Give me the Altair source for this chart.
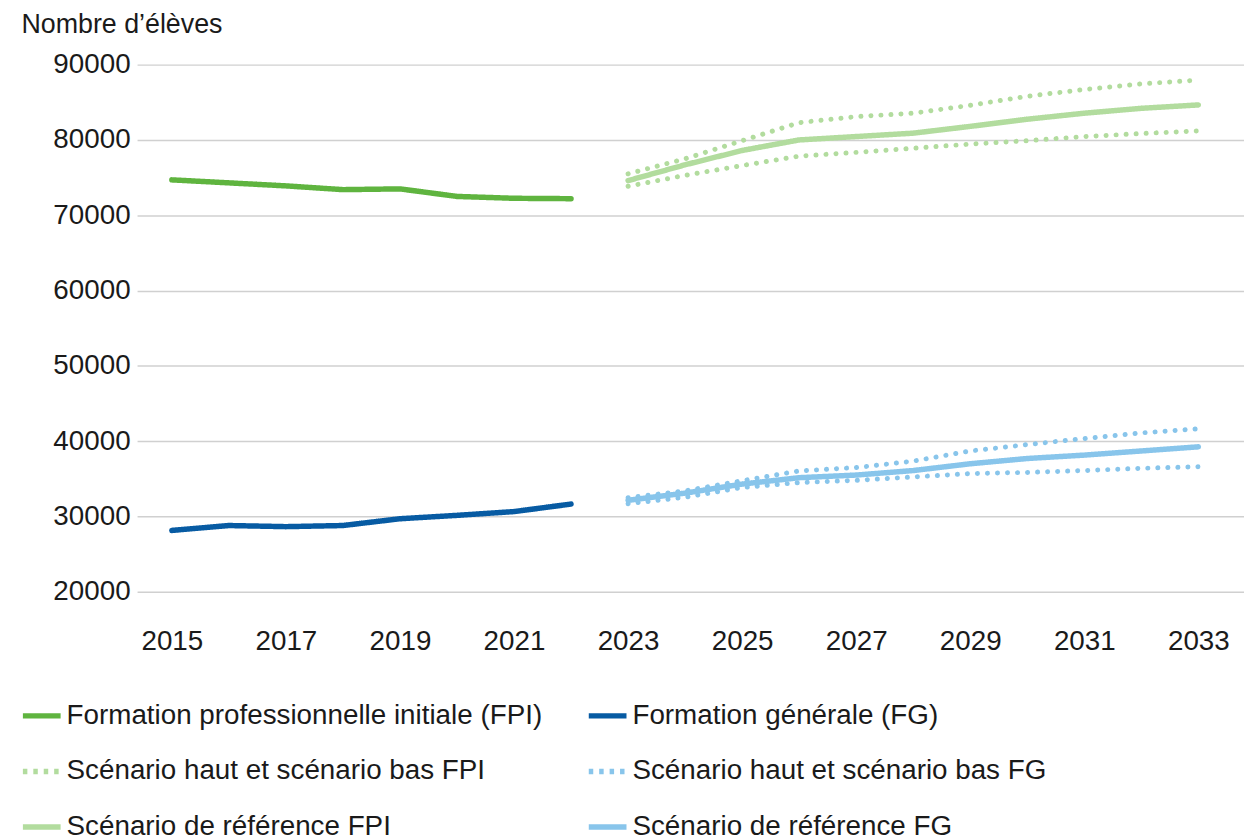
import altair as alt
import pandas as pd

# ---- data ----
years_hist = [2015, 2016, 2017, 2018, 2019, 2020, 2021, 2022]
fpi_hist = [74700, 74300, 73900, 73400, 73500, 72500, 72250, 72200]
fg_hist = [28150, 28800, 28650, 28800, 29700, 30150, 30650, 31650]

years_proj = [2023, 2024, 2025, 2026, 2027, 2028, 2029, 2030, 2031, 2032, 2033]
fpi_ref = [74600, 76700, 78600, 80000, 80450, 80900, 81800, 82750, 83550, 84200, 84650]
fpi_high = [75500, 77500, 79900, 82300, 83100, 83550, 84600, 85800, 86700, 87450, 87950]
fpi_low = [73850, 75300, 76600, 77850, 78350, 78900, 79450, 79900, 80450, 80850, 81200]
fg_ref = [32150, 33100, 34300, 35150, 35500, 36100, 37000, 37700, 38150, 38700, 39250]
fg_high = [32500, 33400, 34750, 36050, 36500, 37350, 38700, 39550, 40350, 41100, 41650]
fg_low = [31700, 32550, 33850, 34500, 34800, 35250, 35700, 35850, 36100, 36400, 36600]

series_names = [
    "Formation professionnelle initiale (FPI)",
    "Formation générale (FG)",
    "Scénario haut et scénario bas FPI",
    "Scénario haut et scénario bas FG",
    "Scénario de référence FPI",
    "Scénario de référence FG",
]
series_colors = ["#5fb43f", "#075ba3", "#b2dc9e", "#88c5eb", "#b2dc9e", "#88c5eb"]
legend_dashes = [[1, 0], [1, 0], [4.5, 6], [4.5, 6], [1, 0], [1, 0]]
dot_dash = [0.1, 10]

x_ticks = [2015, 2017, 2019, 2021, 2023, 2025, 2027, 2029, 2031, 2033]
y_ticks = [20000, 30000, 40000, 50000, 60000, 70000, 80000, 90000]

rows = []


def add(series, line, kind, years, vals):
    for yr, v in zip(years, vals):
        rows.append({"series": series, "line": line, "kind": kind, "year": yr, "value": v})


add(series_names[0], "fpi_hist", "solid", years_hist, fpi_hist)
add(series_names[1], "fg_hist", "solid", years_hist, fg_hist)
add(series_names[2], "fpi_high", "dot", years_proj, fpi_high)
add(series_names[2], "fpi_low", "dot", years_proj, fpi_low)
add(series_names[3], "fg_high", "dot", years_proj, fg_high)
add(series_names[3], "fg_low", "dot", years_proj, fg_low)
add(series_names[4], "fpi_ref", "solid", years_proj, fpi_ref)
add(series_names[5], "fg_ref", "solid", years_proj, fg_ref)
df = pd.DataFrame(rows)

FONT = "Liberation Sans"

x_enc = alt.X(
    "year:Q",
    scale=alt.Scale(domain=[2014.39, 2033.8], nice=False, zero=False),
    axis=alt.Axis(
        values=x_ticks, format="d", grid=False, domain=False, ticks=False,
        labelPadding=36, title=None,
    ),
)
y_enc = alt.Y(
    "value:Q",
    scale=alt.Scale(domain=[20000, 90000], nice=False, zero=False),
    axis=alt.Axis(
        values=y_ticks, format="d", domain=False, ticks=False,
        gridColor="#d0d0d0", gridWidth=1.5, labelPadding=7,
        title="Nombre d’élèves", titleAngle=0, titleX=-117, titleY=-32,
        titleAlign="left", titleBaseline="alphabetic",
        titleFontWeight="normal", titleFontSize=27, titleColor="#1a1a1a",
    ),
)
color_enc = alt.Color(
    "series:N",
    scale=alt.Scale(domain=series_names, range=series_colors),
    legend=alt.Legend(title=None),
)

base = alt.Chart(df)

solid = (
    base.transform_filter(alt.datum.kind == "solid")
    .mark_line(strokeWidth=5.5, strokeCap="round", strokeJoin="round")
    .encode(
        x=x_enc,
        y=y_enc,
        color=color_enc,
        strokeDash=alt.StrokeDash(
            "series:N",
            scale=alt.Scale(domain=series_names, range=legend_dashes),
            legend=alt.Legend(title=None),
        ),
        detail="line:N",
        order="year:Q",
    )
)

dotted = (
    base.transform_filter(alt.datum.kind == "dot")
    .mark_line(strokeWidth=5, strokeCap="round", strokeJoin="round", strokeDash=dot_dash)
    .encode(
        x=x_enc,
        y=y_enc,
        color=color_enc,
        detail="line:N",
        order="year:Q",
    )
)

chart = (
    alt.layer(dotted, solid)
    .properties(width=1115, height=531, padding={"left": 12, "top": 0, "right": 0, "bottom": 0})
    .configure_view(stroke=None)
    .configure_axis(labelFont=FONT, labelFontSize=28, labelColor="#1a1a1a", titleFont=FONT)
    .configure_legend(
        orient="none", legendX=-118, legendY=634, columns=2, direction="horizontal",
        symbolType="stroke", symbolSize=1444, symbolStrokeWidth=5.5,
        labelFont=FONT, labelFontSize=28, labelColor="#1a1a1a", labelLimit=0,
        labelOffset=3, rowPadding=20, columnPadding=35, padding=0,
    )
)

chart.save("out.html", embed_options={"renderer": "svg", "actions": False})
